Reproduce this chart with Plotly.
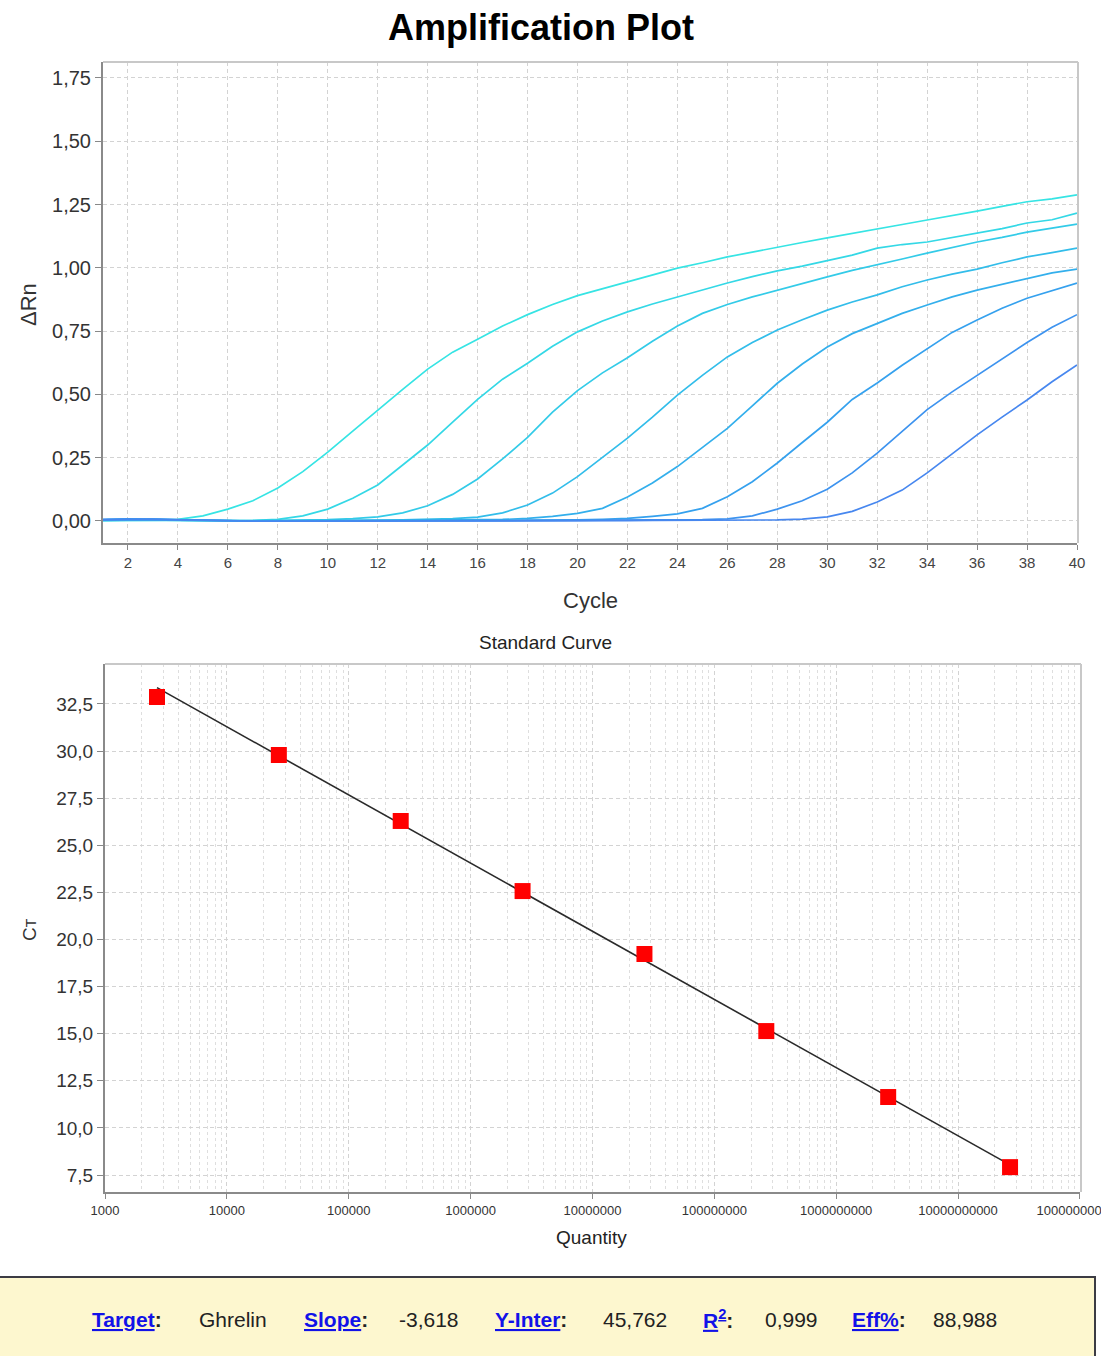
import plotly.graph_objects as go
import math

W, H = 1101, 1356

# ---------------- data ----------------
cycles = list(range(1, 41))

curve1 = [0.002, 0.003, 0.003, 0.006, 0.02, 0.047, 0.08, 0.13, 0.195, 0.272,
          0.355, 0.438, 0.52, 0.60, 0.667, 0.718, 0.77, 0.815, 0.855, 0.89,
          0.918, 0.945, 0.972, 0.999, 1.02, 1.043, 1.062, 1.082, 1.10, 1.118,
          1.135, 1.153, 1.171, 1.189, 1.206, 1.224, 1.243, 1.261, 1.272, 1.288]
curve2 = [0.001, 0.002, 0.003, 0.002, 0.001, 0.001, 0.002, 0.006, 0.02, 0.047,
          0.09, 0.142, 0.22, 0.30, 0.39, 0.48, 0.56, 0.623, 0.69, 0.747,
          0.79, 0.826, 0.857, 0.885, 0.913, 0.94, 0.965, 0.988, 1.007, 1.027,
          1.05, 1.078, 1.092, 1.102, 1.12, 1.137, 1.155, 1.177, 1.19, 1.216]
curve3 = [0.002, 0.004, 0.004, 0.002, 0.001, 0.0, 0.001, 0.002, 0.003, 0.005,
          0.009, 0.016, 0.032, 0.06, 0.105, 0.166, 0.245, 0.33, 0.43, 0.515,
          0.585, 0.645, 0.71, 0.77, 0.82, 0.855, 0.885, 0.912, 0.94, 0.964,
          0.99, 1.011, 1.035, 1.058, 1.08, 1.102, 1.12, 1.141, 1.157, 1.173]
curve4 = [0.003, 0.005, 0.005, 0.003, 0.001, 0.0, 0.0, 0.001, 0.001, 0.002,
          0.002, 0.003, 0.004, 0.006, 0.009, 0.015, 0.032, 0.063, 0.11, 0.175,
          0.25, 0.327, 0.41, 0.497, 0.575, 0.648, 0.705, 0.754, 0.795, 0.833,
          0.865, 0.893, 0.925, 0.952, 0.975, 0.995, 1.02, 1.043, 1.06, 1.078]
curve5 = [0.004, 0.006, 0.006, 0.003, 0.001, 0.0, 0.0, 0.0, 0.001, 0.001,
          0.001, 0.002, 0.002, 0.003, 0.003, 0.004, 0.006, 0.01, 0.018, 0.03,
          0.05, 0.095, 0.15, 0.215, 0.29, 0.366, 0.455, 0.544, 0.62, 0.687,
          0.74, 0.78, 0.82, 0.853, 0.885, 0.912, 0.935, 0.96, 0.98, 0.995]
curve6 = [0.005, 0.007, 0.006, 0.004, 0.002, 0.001, 0.0, 0.0, 0.0, 0.0,
          0.001, 0.001, 0.001, 0.001, 0.002, 0.002, 0.002, 0.003, 0.003, 0.004,
          0.006, 0.01, 0.018, 0.028, 0.05, 0.096, 0.155, 0.229, 0.31, 0.39,
          0.48, 0.545, 0.615, 0.68, 0.745, 0.794, 0.84, 0.88, 0.91, 0.94]
curve7 = [0.006, 0.008, 0.007, 0.005, 0.003, 0.001, 0.0, 0.0, 0.0, 0.0,
          0.0, 0.0, 0.001, 0.001, 0.001, 0.001, 0.001, 0.002, 0.002, 0.002,
          0.003, 0.003, 0.003, 0.004, 0.005, 0.008, 0.02, 0.047, 0.08, 0.125,
          0.19, 0.268, 0.355, 0.44, 0.51, 0.575, 0.64, 0.705, 0.765, 0.815]
curve8 = [0.004, 0.006, 0.006, 0.004, 0.002, 0.0, -0.001, -0.001, -0.001, 0.0,
          0.0, 0.0, 0.0, 0.0, 0.0, 0.0, 0.0, 0.0, 0.001, 0.001,
          0.001, 0.001, 0.002, 0.002, 0.002, 0.003, 0.003, 0.004, 0.007, 0.016,
          0.038, 0.075, 0.122, 0.19, 0.265, 0.34, 0.41, 0.478, 0.55, 0.616]
curves = [curve1, curve2, curve3, curve4, curve5, curve6, curve7, curve8]
curve_colors = ["#36e4e4", "#34d8e6", "#33cbe8", "#32bdea",
                "#33afec", "#35a1ee", "#3d93ef", "#4787ef"]

quantity = [2.67e3, 2.67e4, 2.67e5, 2.67e6, 2.67e7, 2.67e8, 2.67e9, 2.67e10]
ct_values = [32.87, 29.79, 26.29, 22.57, 19.23, 15.14, 11.64, 7.92]

target = "Ghrelin"
slope = -3.618
y_inter = 45.762
r2 = 0.999
eff = 88.988

amp_yticks = [0.0, 0.25, 0.5, 0.75, 1.0, 1.25, 1.5, 1.75]
std_yticks = [7.5, 10.0, 12.5, 15.0, 17.5, 20.0, 22.5, 25.0, 27.5, 30.0, 32.5]
qty_ticks = [1e3, 1e4, 1e5, 1e6, 1e7, 1e8, 1e9, 1e10, 1e11]
qty_ticktext = ["1000", "10000", "100000", "1000000", "10000000", "100000000",
                "1000000000", "10000000000", "100000000000"]

# ---------------- helpers (pixel -> paper) ----------------
def px(x):
    return x / W

def py(y):
    return 1 - y / H

FONT = "Liberation Sans, Arial, sans-serif"
GRID = "#d3d3d3"

fig = go.Figure()

for i, (c, col) in enumerate(zip(curves, curve_colors)):
    fig.add_trace(go.Scatter(x=cycles, y=c, mode="lines",
                             line=dict(color=col, width=1.7),
                             xaxis="x", yaxis="y", showlegend=False,
                             hoverinfo="x+y"))

# standard curve fit line
lx = [quantity[0], quantity[-1]]
ly = [y_inter + slope * math.log10(q) for q in lx]
fig.add_trace(go.Scatter(x=lx, y=ly, mode="lines",
                         line=dict(color="#2a2a2a", width=1.6),
                         xaxis="x2", yaxis="y2", showlegend=False))
fig.add_trace(go.Scatter(x=quantity, y=ct_values, mode="markers",
                         marker=dict(symbol="square", size=16, color="#ff0000",
                                     line=dict(width=0)),
                         xaxis="x2", yaxis="y2", showlegend=False))

minor_vals = [k * 10 ** d for d in range(3, 11) for k in range(2, 10)]

fig.update_layout(
    template="none",
    width=W, height=H,
    margin=dict(l=0, r=0, t=0, b=0, pad=0),
    paper_bgcolor="white", plot_bgcolor="white",
    font=dict(family=FONT, color="#333333"),
    separators=",.",
    xaxis=dict(domain=[px(103), px(1077)], range=[1, 40], automargin=False,
               tick0=2, dtick=2, ticks="outside", ticklen=5,
               tickcolor="#888888", tickfont=dict(size=15, color="#444444"),
               ticklabeloverflow="allow",
               showline=True, linecolor="#8a8a8a", linewidth=2,
               showgrid=True, gridcolor=GRID, griddash="4px,3px", gridwidth=1,
               zeroline=False, anchor="y"),
    yaxis=dict(domain=[py(543), py(62)], range=[-0.087, 1.813], automargin=False,
               tickvals=amp_yticks, tickformat=".2f",
               ticks="outside", ticklen=6, tickcolor="#888888",
               tickfont=dict(size=20, color="#333333"),
               showline=True, linecolor="#8a8a8a", linewidth=2,
               showgrid=True, gridcolor=GRID, griddash="4px,3px", gridwidth=1,
               zeroline=False, anchor="x"),
    xaxis2=dict(domain=[px(105), px(1080)], type="log", range=[3, 11.0005],
                automargin=False, ticklabeloverflow="allow",
                tickvals=qty_ticks, ticktext=qty_ticktext,
                ticks="outside", ticklen=5, tickcolor="#888888",
                tickfont=dict(size=13, color="#333333"),
                showline=True, linecolor="#8a8a8a", linewidth=2,
                showgrid=True, gridcolor=GRID, griddash="4px,3px", gridwidth=1,
                minor=dict(tickmode="array", tickvals=minor_vals, showgrid=True,
                           gridcolor="#dedede", griddash="3px,3px", ticks=""),
                zeroline=False, anchor="y2"),
    yaxis2=dict(domain=[py(1192), py(664)], range=[6.6, 34.62], automargin=False,
                tickvals=std_yticks, tickformat=".1f",
                ticks="outside", ticklen=6, tickcolor="#888888",
                tickfont=dict(size=19, color="#333333"),
                showline=True, linecolor="#8a8a8a", linewidth=2,
                showgrid=True, gridcolor=GRID, griddash="4px,3px", gridwidth=1,
                zeroline=False, anchor="x2"),
)

shapes = [
    # lighter top/right borders
    dict(type="line", xref="paper", yref="paper", x0=px(103), x1=px(1078),
         y0=py(62), y1=py(62), line=dict(color="#c8c8c8", width=2)),
    dict(type="line", xref="paper", yref="paper", x0=px(1078), x1=px(1078),
         y0=py(62), y1=py(543), line=dict(color="#c8c8c8", width=2)),
    dict(type="line", xref="paper", yref="paper", x0=px(105), x1=px(1081),
         y0=py(664), y1=py(664), line=dict(color="#c8c8c8", width=2)),
    dict(type="line", xref="paper", yref="paper", x0=px(1081), x1=px(1081),
         y0=py(664), y1=py(1192), line=dict(color="#c8c8c8", width=2)),
    # info box
    dict(type="rect", xref="paper", yref="paper", x0=px(-4), x1=px(1095),
         y0=py(1362), y1=py(1277), fillcolor="#fdf7cf",
         line=dict(color="#3c3c44", width=2), layer="above"),
]
fig.update_layout(shapes=shapes)

ann = []
ann.append(dict(text="<b>Amplification Plot</b>", x=px(541), y=py(28),
                font=dict(size=36, color="#000000")))
ann.append(dict(text="ΔRn", x=px(28), y=py(305), textangle=-90,
                font=dict(size=22, color="#333333")))
ann.append(dict(text="Cycle", x=px(590), y=py(600),
                font=dict(size=22, color="#333333")))
ann.append(dict(text="Standard Curve", x=px(545), y=py(642),
                font=dict(size=19, color="#222222")))
ann.append(dict(text="C<span style='font-size:14px'>T</span>", x=px(30), y=py(930),
                textangle=-90, font=dict(size=19, color="#333333")))
ann.append(dict(text="Quantity", x=px(591), y=py(1237),
                font=dict(size=19, color="#222222")))

BLUE = "#1212e8"
def label(word, sup=None):
    s = f"<span style='color:{BLUE}'><u>{word}</u></span>"
    if sup:
        s = f"<span style='color:{BLUE}'><u>{word}<sup>{sup}</sup></u></span>"
    return f"<b>{s}:</b>"

def fmt(v):
    return f"{v:.3f}".replace(".", ",")

info = [
    (label("Target"), 90), (target, 197),
    (label("Slope"), 302), (fmt(slope), 397),
    (label("Y-Inter"), 493), (fmt(y_inter), 601),
    (label("R", "2"), 701), (fmt(r2), 763),
    (label("Eff%"), 850), (fmt(eff), 931),
]
for txt, xl in info:
    ann.append(dict(text=txt, x=px(xl), y=py(1319), xanchor="left",
                    font=dict(size=21, color="#222222")))

for a in ann:
    a.setdefault("xanchor", "center")
    a.setdefault("yanchor", "middle")
    a.update(xref="paper", yref="paper", showarrow=False)
fig.update_layout(annotations=ann)

fig.write_html("out.html")
